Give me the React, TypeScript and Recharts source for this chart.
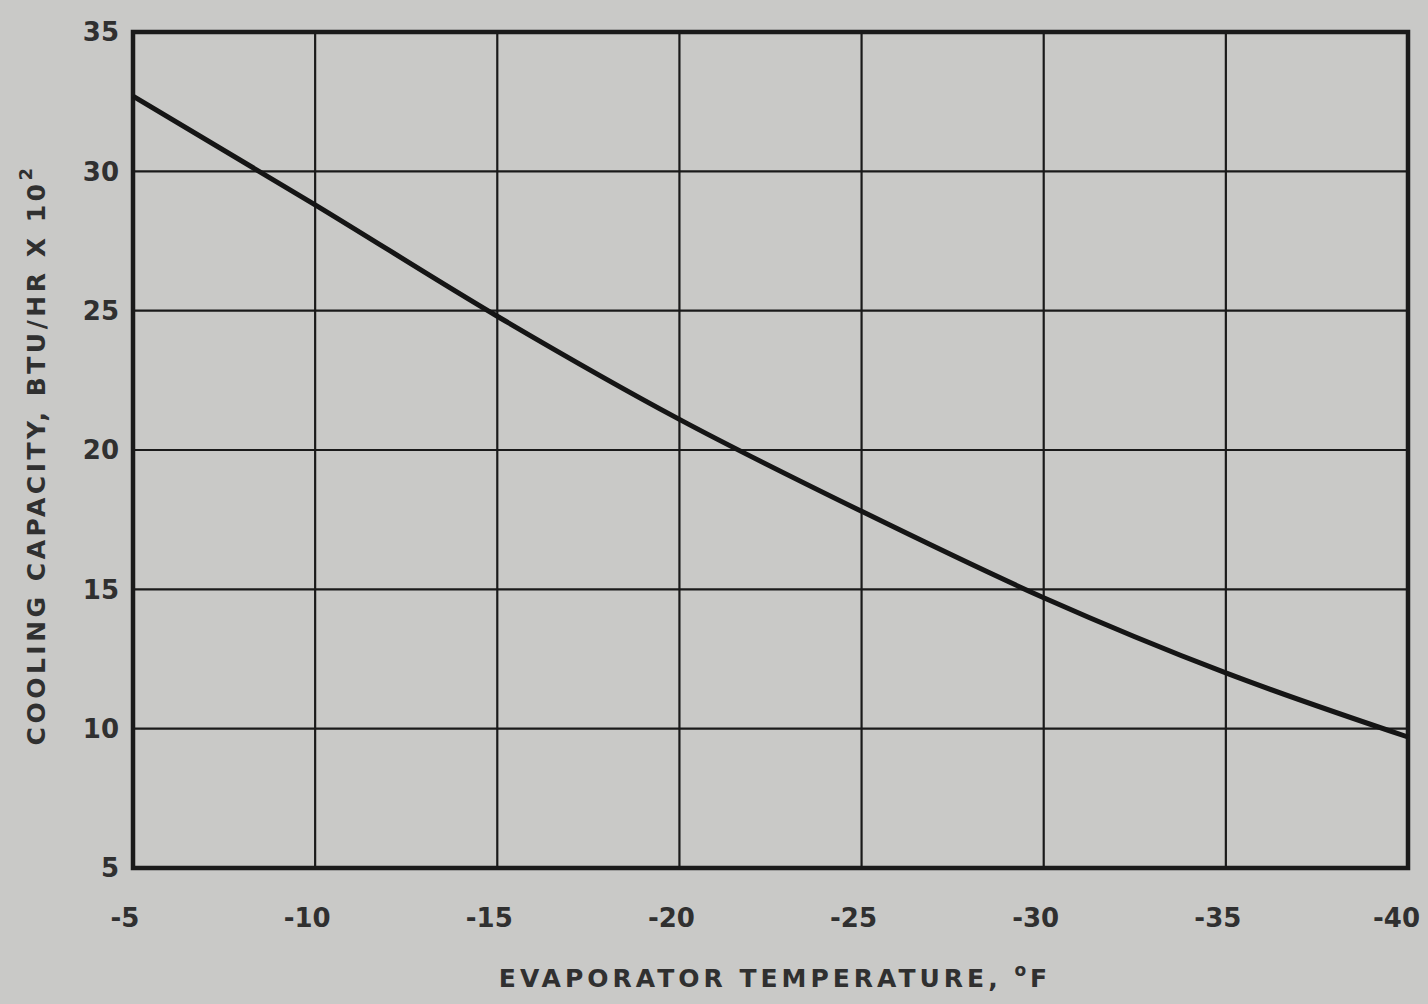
import {
  LineChart,
  Line,
  XAxis,
  YAxis,
  CartesianGrid,
  ReferenceArea,
} from "recharts"

// evaporator temperature (°F) and cooling capacity (BTU/HR x 10^2)
const temps = [-5, -10, -15, -20, -25, -30, -35, -40]
const capacity = [32.7, 28.8, 24.8, 21.1, 17.8, 14.7, 12.0, 9.7]

const xTicks = [-5, -10, -15, -20, -25, -30, -35, -40]
const yTicks = [5, 10, 15, 20, 25, 30, 35]

const data = temps.map((t, i) => ({ temp: t, cap: capacity[i] }))

const INK = "#1a1a1a"
const TEXT = "#303030"
const FONT = "'DejaVu Sans', 'Liberation Sans', sans-serif"

const XTick = ({ x, y, payload }: any) => {
  const last = payload.value === -40
  return (
    <text
      x={last ? x + 12 : x - 8}
      y={y}
      dy="0.71em"
      textAnchor={last ? "end" : "middle"}
      fill={TEXT}
      fontFamily={FONT}
      fontWeight="bold"
      fontSize={26}
    >
      {payload.value}
    </text>
  )
}

const YLabel = ({ viewBox }: any) => {
  const cx = 36
  const cy = viewBox.y + viewBox.height / 2 + 5
  return (
    <text
      x={cx}
      y={cy}
      transform={`rotate(-90 ${cx} ${cy})`}
      textAnchor="middle"
      dominantBaseline="central"
      fill={TEXT}
      fontFamily={FONT}
      fontWeight="bold"
      fontSize={25}
      letterSpacing={3.5}
    >
      COOLING CAPACITY, BTU/HR X 10
      <tspan dy={-11} fontSize={18}>2</tspan>
    </text>
  )
}

const XLabel = () => (
  <text
    x={775}
    y={987}
    textAnchor="middle"
    fill={TEXT}
    fontFamily={FONT}
    fontWeight="bold"
    fontSize={25}
    letterSpacing={4}
  >
    EVAPORATOR TEMPERATURE,{"  "}
    <tspan dy={-11} fontSize={17}>o</tspan>
    <tspan dy={11}>F</tspan>
  </text>
)

export default function App() {
  return (
    <div
      style={{
        position: "fixed",
        left: 0,
        top: 0,
        width: 1428,
        height: 1004,
        background: "#c9c9c7",
      }}
    >
      <LineChart
        width={1428}
        height={1004}
        data={data}
        margin={{ top: 32, right: 20, left: 0, bottom: 106 }}
      >
        <CartesianGrid stroke={INK} strokeWidth={2.2} horizontalValues={yTicks} verticalValues={xTicks} />
        <XAxis
          dataKey="temp"
          type="number"
          domain={[-40, -5]}
          reversed
          ticks={xTicks}
          tickLine={false}
          axisLine={false}
          tickMargin={35}
          tick={<XTick />}
          label={<XLabel />}
        />
        <YAxis
          type="number"
          domain={[5, 35]}
          ticks={yTicks}
          width={133}
          tickLine={false}
          axisLine={false}
          tickMargin={8}
          tick={{ fill: TEXT, fontSize: 26, fontWeight: "bold", fontFamily: FONT }}
          label={<YLabel />}
        />
        <ReferenceArea
          x1={-5}
          x2={-40}
          y1={5}
          y2={35}
          fill="none"
          stroke={INK}
          strokeWidth={4.5}
          fillOpacity={0}
          ifOverflow="visible"
        />
        <Line
          type="monotone"
          dataKey="cap"
          stroke="#151515"
          strokeWidth={5}
          dot={false}
          isAnimationActive={false}
        />
      </LineChart>
    </div>
  )
}
